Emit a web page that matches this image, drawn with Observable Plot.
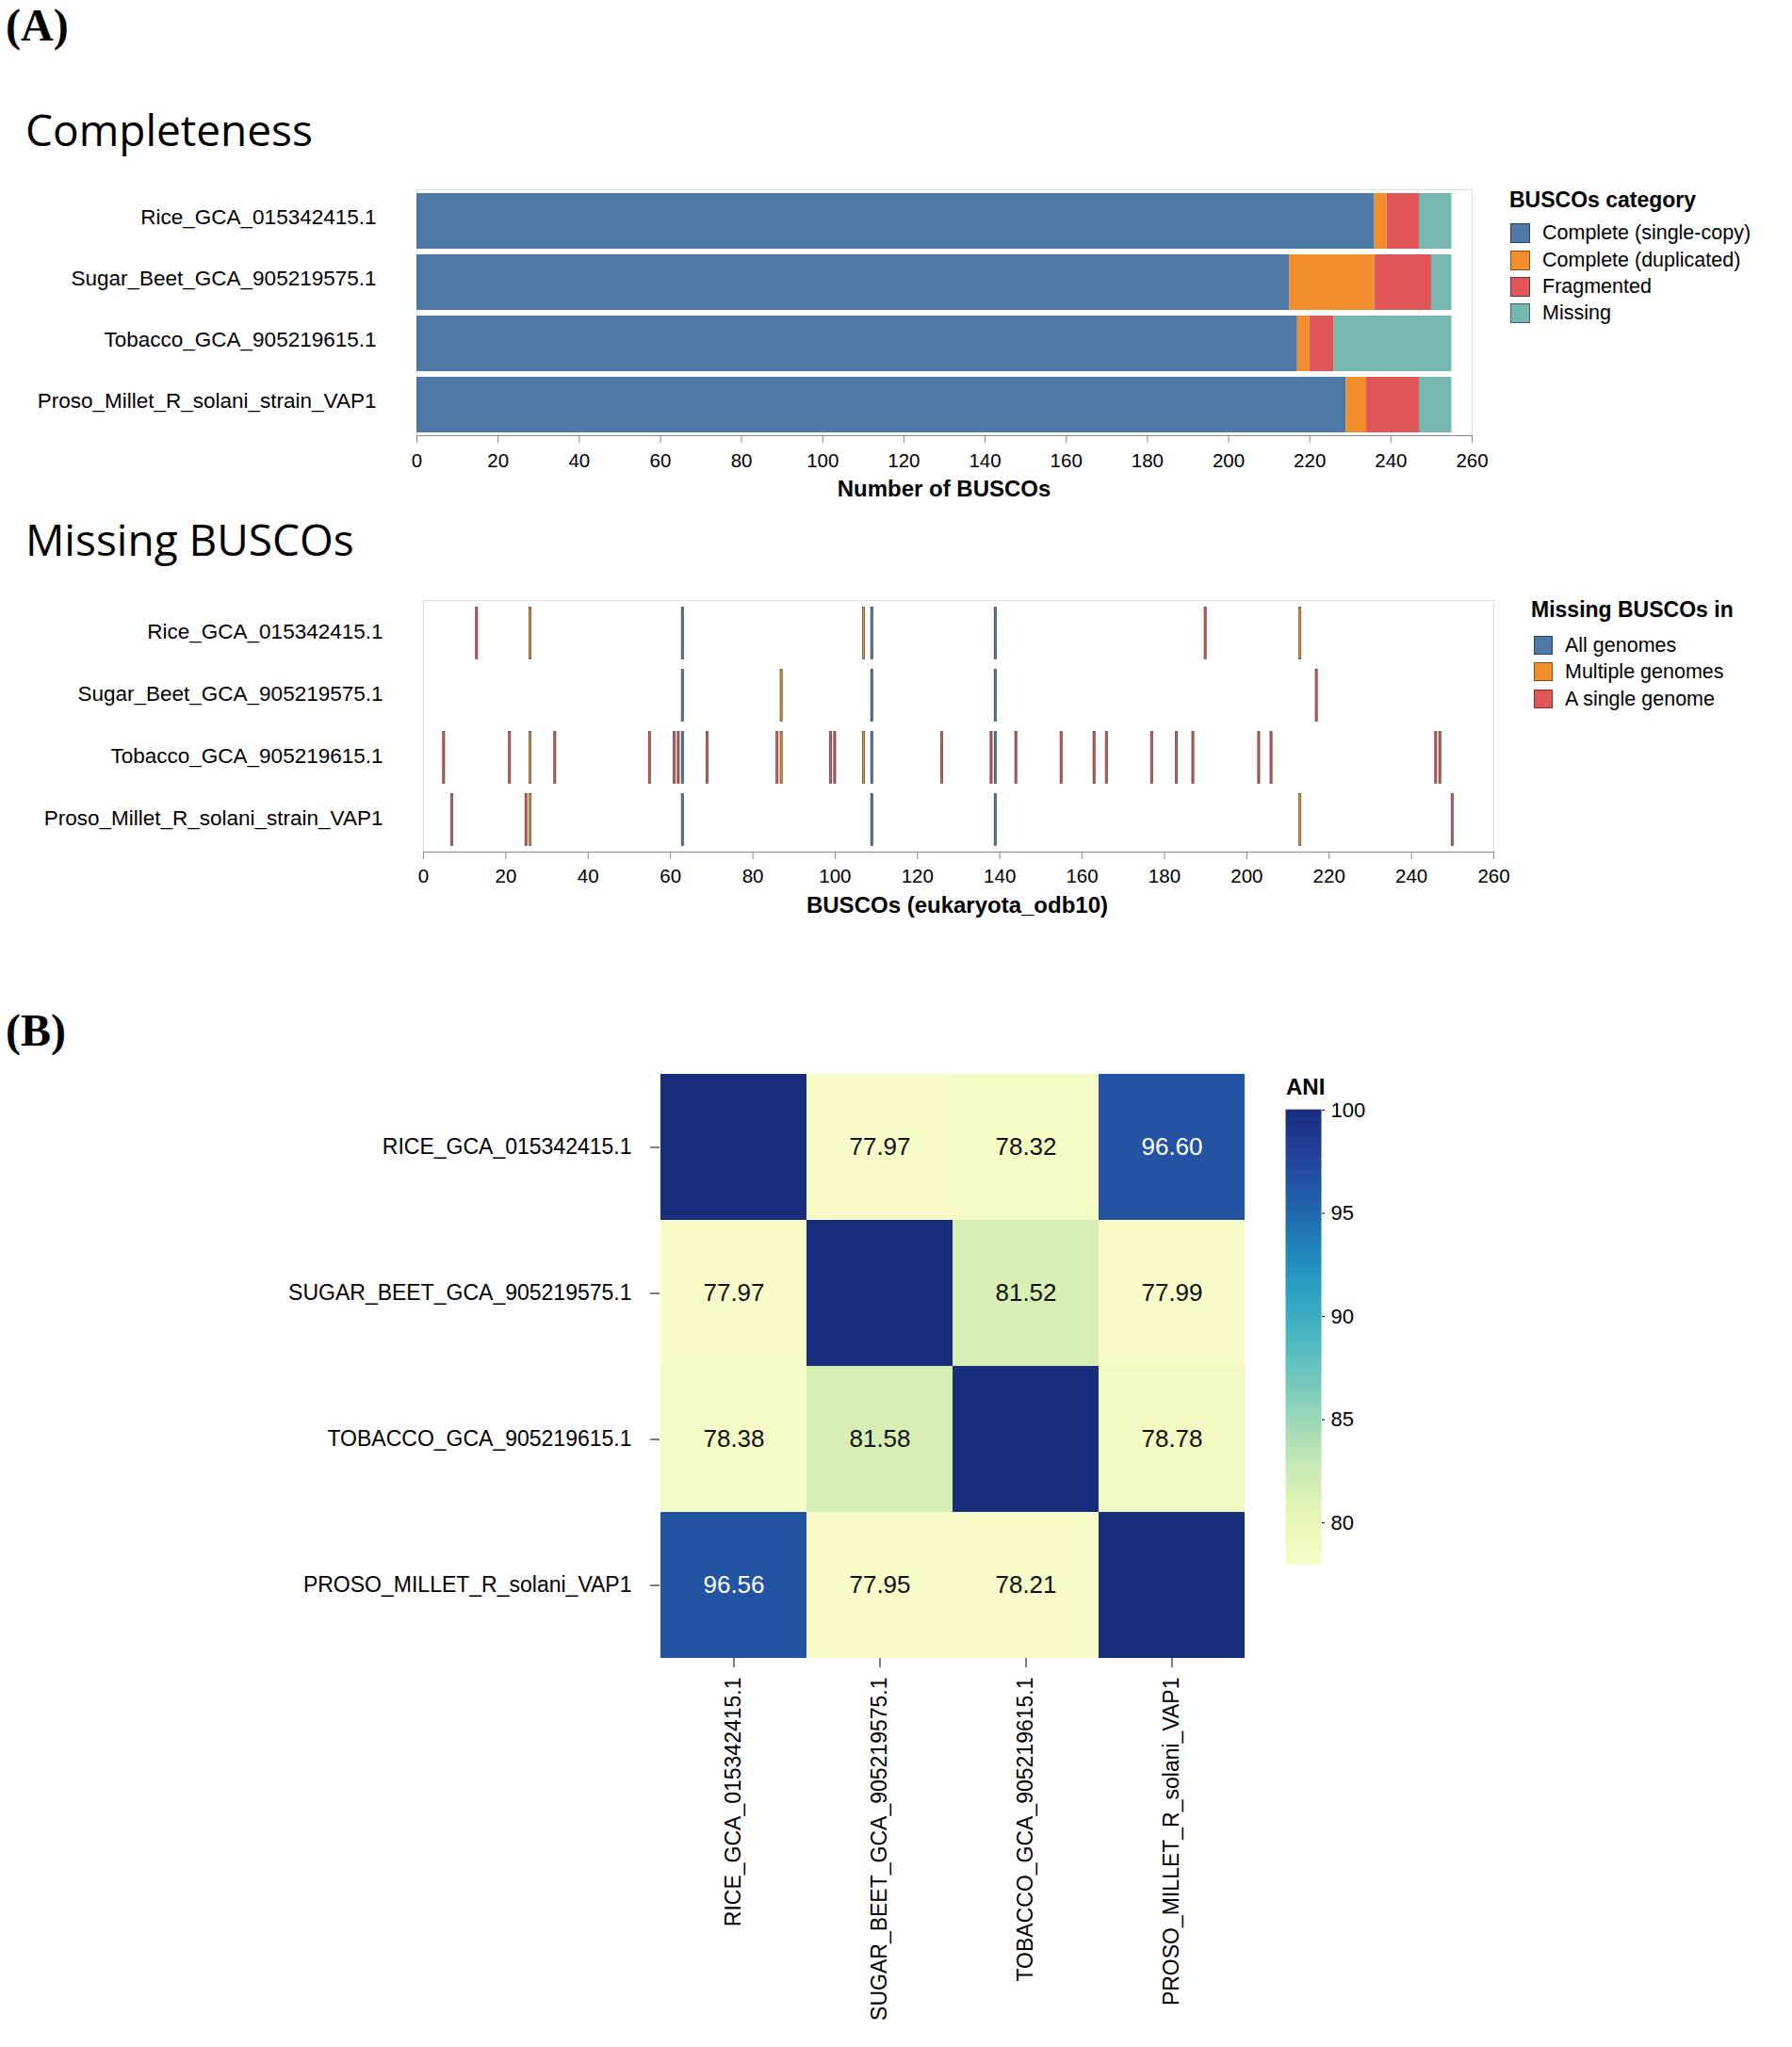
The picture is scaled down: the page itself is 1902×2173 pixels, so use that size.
<!DOCTYPE html>
<html><head><meta charset="utf-8">
<script src="https://cdn.jsdelivr.net/npm/d3@7"></script>
<script src="https://cdn.jsdelivr.net/npm/@observablehq/plot@0.6"></script>
<style>
body{margin:0;background:#fff;width:1902px;height:2173px;position:relative;overflow:hidden;font-family:"Liberation Sans",Arial,sans-serif;color:#000;}
.abs{position:absolute;white-space:nowrap;line-height:1;}
.panel{font-family:"Liberation Serif","Times New Roman",serif;font-weight:bold;font-size:48px;}
.title{font-family:"Open Sans",sans-serif;font-size:46px;}
.axt{font-weight:bold;font-size:24px;text-align:center;width:600px;}
.lgt{font-weight:bold;font-size:23px;}
.sw{position:absolute;box-sizing:border-box;border:1px solid rgba(0,0,0,0.45);}
.lgl{position:absolute;white-space:nowrap;font-size:21.5px;}
.plot{position:absolute;}
</style></head><body>
<script>
// ---------- Data ----------
const genomes = ["Rice_GCA_015342415.1","Sugar_Beet_GCA_905219575.1","Tobacco_GCA_905219615.1","Proso_Millet_R_solani_strain_VAP1"];
const categories = ["Complete (single-copy)","Complete (duplicated)","Fragmented","Missing"];
const compColors = ["#4e79a7","#f28e2b","#e15759","#76b7b2"];
const singleCopy = [236,215,217,229];
const duplicated = [3,21,3,5];
const fragmented = [8,14,6,13];
const missingCount = [8,5,29,8];
const xTicks = [0,20,40,60,80,100,120,140,160,180,200,220,240,260];

const missingRice = [13,26,63,107,109,139,190,213];
const missingSugar = [63,87,109,139,217];
const missingTobacco = [5,21,26,32,55,61,62,63,69,86,87,99,100,107,109,126,138,139,144,155,163,166,177,183,187,203,206,246,247];
const missingProso = [7,25,26,63,109,139,213,250];
const missClasses = ["All genomes","Multiple genomes","A single genome"];
const missColors = ["#4e79a7","#f28e2b","#e15759"];

const aniNames = ["RICE_GCA_015342415.1","SUGAR_BEET_GCA_905219575.1","TOBACCO_GCA_905219615.1","PROSO_MILLET_R_solani_VAP1"];
const aniRice = [100,77.97,78.32,96.60];
const aniSugar = [77.97,100,81.52,77.99];
const aniTobacco = [78.38,81.58,100,78.78];
const aniProso = [96.56,77.95,78.21,100];
const aniTicks = [80,85,90,95,100];
const aniDomain = [77.95,100];

// ---------- helpers ----------
const FONT = '"Liberation Sans", Arial, sans-serif';
function add(el, left, top){ el.classList.add("plot"); el.style.left = left+"px"; el.style.top = top+"px"; document.body.appendChild(el); return el; }
function text(cls, str, left, top, extra){ const d=document.createElement("div"); d.className="abs "+cls; d.textContent=str; d.style.left=left+"px"; d.style.top=top+"px"; if(extra) Object.assign(d.style, extra); document.body.appendChild(d); return d; }
function legend(title, names, colors, x, titleTop, swX, swTops, swSize, labX){
  text("lgt", title, x, titleTop);
  names.forEach((n,i)=>{
    const s=document.createElement("div"); s.className="sw";
    Object.assign(s.style,{left:swX+"px",top:swTops[i]+"px",width:swSize+"px",height:swSize+"px",background:colors[i]});
    document.body.appendChild(s);
    const l=document.createElement("div"); l.className="lgl"; l.textContent=n;
    Object.assign(l.style,{left:labX+"px",top:swTops[i]+"px",height:swSize+"px",lineHeight:swSize+"px"});
    document.body.appendChild(l);
  });
}

// ---------- titles ----------
text("panel","(A)",6,3);
text("panel","(B)",6,1070);
text("title","Completeness",27,114);
text("title","Missing BUSCOs",27,549);

// ---------- Completeness ----------
const compData = [];
const compSeries = [singleCopy, duplicated, fragmented, missingCount];
genomes.forEach((g,i)=>compSeries.forEach((arr,j)=>compData.push({genome:g, category:categories[j], value:arr[i]})));

const p1 = Plot.plot({
  width:1572, height:362, marginLeft:442, marginRight:10, marginTop:21, marginBottom:80,
  style:{fontFamily:FONT, fontSize:"22.5px", color:"#000", background:"transparent", overflow:"visible"},
  x:{domain:[0,260]},
  y:{domain:genomes, paddingInner:0.1, paddingOuter:0.05},
  color:{domain:categories, range:compColors},
  marks:[
    Plot.frame({stroke:"#ddd"}),
    Plot.barX(compData,{x:"value", y:"genome", fill:"category", inset:0}),
    Plot.axisX({ticks:xTicks, tickSize:8, tickPadding:11, fontSize:20.5, label:null, stroke:"#888"}),
    Plot.axisY({tickSize:0, tickPadding:43, label:null, dy:-4}),
    Plot.frame({anchor:"bottom", stroke:"#888"})
  ]
});
add(p1,0,180);
text("axt","Number of BUSCOs",1002-300,507);
legend("BUSCOs category", categories, compColors, 1602, 201, 1603, [237,266,294,322], 21, 1637);

// ---------- Missing BUSCOs ----------
const missLists = [missingRice, missingSugar, missingTobacco, missingProso];
const occ = new Map();
missLists.forEach(l=>l.forEach(p=>occ.set(p,(occ.get(p)||0)+1)));
const missData = [];
missLists.forEach((l,i)=>l.forEach(p=>{
  const c = occ.get(p);
  missData.push({genome:genomes[i], pos:p, cls: c===genomes.length ? missClasses[0] : c>1 ? missClasses[1] : missClasses[2]});
}));

const p2 = Plot.plot({
  width:1595, height:349, marginLeft:449, marginRight:10, marginTop:12, marginBottom:70,
  style:{fontFamily:FONT, fontSize:"22.5px", color:"#000", background:"transparent", overflow:"visible"},
  x:{domain:[0,260]},
  y:{domain:genomes, padding:0},
  color:{domain:missClasses, range:missColors},
  marks:[
    Plot.frame({stroke:"#ddd"}),
    Plot.barX(missData,{x1:d=>d.pos-0.25, x2:d=>d.pos+0.25, y:"genome", fill:"cls", stroke:"#2a2a2a", strokeOpacity:0.85, strokeWidth:0.7, insetTop:5.5, insetBottom:5.5, insetLeft:0, insetRight:0}),
    Plot.axisX({ticks:xTicks, tickSize:8, tickPadding:10, fontSize:20.5, label:null, stroke:"#888"}),
    Plot.axisY({tickSize:0, tickPadding:43, label:null, dy:-2}),
    Plot.frame({anchor:"bottom", stroke:"#888"})
  ]
});
add(p2,0,625);
text("axt","BUSCOs (eukaryota_odb10)",1016-300,949);
legend("Missing BUSCOs in", missClasses, missColors, 1625, 636, 1628, [675,703,732], 20, 1661);

// ---------- ANI heatmap ----------
const aniRows = [aniRice, aniSugar, aniTobacco, aniProso];
const aniData = [];
aniRows.forEach((r,i)=>r.forEach((v,j)=>aniData.push({row:aniNames[i], col:aniNames[j], value:v, diag:i===j})));
const fmt = d3.format(".2f");
const aniColor = {type:"linear", domain:aniDomain, interpolate:d3.interpolateYlGnBu, range:[0.05,0.92]};

const p3 = Plot.plot({
  width:1331, height:1060, marginLeft:700, marginRight:10, marginTop:39, marginBottom:400,
  style:{fontFamily:FONT, fontSize:"23px", color:"#000", background:"transparent", overflow:"visible"},
  x:{domain:aniNames, padding:0},
  y:{domain:aniNames, padding:0},
  color:aniColor,
  marks:[
    Plot.cell(aniData,{x:"col", y:"row", fill:"value", inset:0}),
    Plot.text(aniData.filter(d=>!d.diag && d.value<90),{x:"col", y:"row", text:d=>fmt(d.value), fill:"#111", fontSize:26}),
    Plot.text(aniData.filter(d=>!d.diag && d.value>=90),{x:"col", y:"row", text:d=>fmt(d.value), fill:"#fff", fontSize:26}),
    Plot.axisX({tickRotate:-90, tickSize:10, tickPadding:10, label:null, fontSize:23}),
    Plot.axisY({tickSize:10, tickPadding:20, label:null, fontSize:23})
  ]
});
add(p3,0,1100);

// colorbar
const rampStep = 0.05;
const ramp = d3.range(aniDomain[0], aniDomain[1], rampStep);
const p4 = Plot.plot({
  width:130, height:541, marginLeft:35, marginRight:58, marginTop:48, marginBottom:10,
  style:{fontFamily:FONT, fontSize:"22px", color:"#000", background:"transparent", overflow:"visible"},
  x:{domain:[0,1], axis:null},
  y:{domain:aniDomain, axis:null},
  color:aniColor,
  marks:[
    Plot.rect(ramp,{x1:0, x2:1, y1:d=>d, y2:d=>Math.min(d+rampStep*1.5, aniDomain[1]), fill:d=>d, stroke:d=>d, strokeWidth:0.6, inset:0}),
    Plot.axisY({anchor:"right", ticks:aniTicks, tickSize:3, tickPadding:7, label:null, fontSize:22})
  ]
});
add(p4,1330,1130);
text("lgt","ANI",1365,1142,{fontSize:"24px"});
</script>
</body></html>
